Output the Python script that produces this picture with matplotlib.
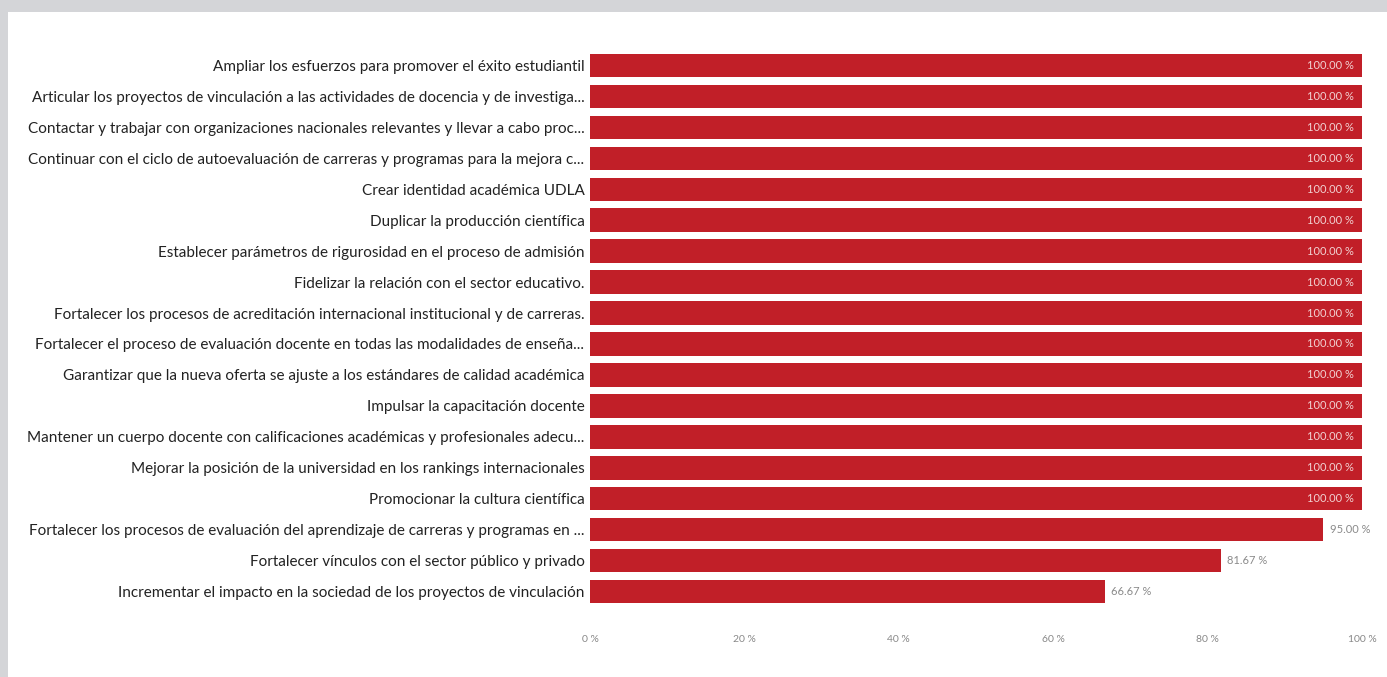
import matplotlib.pyplot as plt
from matplotlib.patches import Rectangle

labels = [
    "Ampliar los esfuerzos para promover el éxito estudiantil",
    "Articular los proyectos de vinculación a las actividades de docencia y de investiga...",
    "Contactar y trabajar con organizaciones nacionales relevantes y llevar a cabo proc...",
    "Continuar con el ciclo de autoevaluación de carreras y programas para la mejora c...",
    "Crear identidad académica UDLA",
    "Duplicar la producción científica",
    "Establecer parámetros de rigurosidad en el proceso de admisión",
    "Fidelizar la relación con el sector educativo.",
    "Fortalecer los procesos de acreditación internacional institucional y de carreras.",
    "Fortalecer el proceso de evaluación docente en todas las modalidades de enseña...",
    "Garantizar que la nueva oferta se ajuste a los estándares de calidad académica",
    "Impulsar la capacitación docente",
    "Mantener un cuerpo docente con calificaciones académicas y profesionales adecu...",
    "Mejorar la posición de la universidad en los rankings internacionales",
    "Promocionar la cultura científica",
    "Fortalecer los procesos de evaluación del aprendizaje de carreras y programas en ...",
    "Fortalecer vínculos con el sector público y privado",
    "Incrementar el impacto en la sociedad de los proyectos de vinculación",
]
values = [100.0] * 15 + [95.0, 81.67, 66.67]
ticks = [0, 20, 40, 60, 80, 100]

bar_color = "#C11F28"
plt.rcParams['font.family'] = ['Lato', 'DejaVu Sans']

fig = plt.figure(figsize=(13.87, 6.77), dpi=100, facecolor="#d4d5d8")
# white panel over the grey frame
fig.patches.append(Rectangle((8 / 1387, 0), 1, 1 - 12 / 677, transform=fig.transFigure,
                             facecolor="white", edgecolor="none", zorder=-10))

ax = fig.add_axes([0.4254, 0.1034, 0.5566, 0.8227])
ax.set_zorder(5)
ax.set_facecolor("none")
y = list(range(len(labels)))
ax.barh(y, values, height=0.76, color=bar_color)
ax.set_ylim(len(labels) - 0.5, -0.5)
ax.set_xlim(0, 100)

for yi, v in zip(y, values):
    txt = f"{v:.2f} %"
    if v >= 99:
        ax.text(v - 1.1, yi, txt, ha="right", va="center", fontsize=8, color="#f1d2d2")
    else:
        ax.text(v + 0.8, yi, txt, ha="left", va="center", fontsize=8, color="#8a8a8a")

ax.set_yticks(y)
ax.set_yticklabels(labels, fontsize=11, color="#222222")
ax.set_xticks(ticks)
ax.set_xticklabels([f"{t} %" for t in ticks], fontsize=7.5, color="#888888")
ax.tick_params(axis="both", length=0)
ax.tick_params(axis="y", pad=4)
ax.tick_params(axis="x", pad=20)
for s in ax.spines.values():
    s.set_visible(False)

fig.savefig("out.png", dpi=100, facecolor=fig.get_facecolor())
